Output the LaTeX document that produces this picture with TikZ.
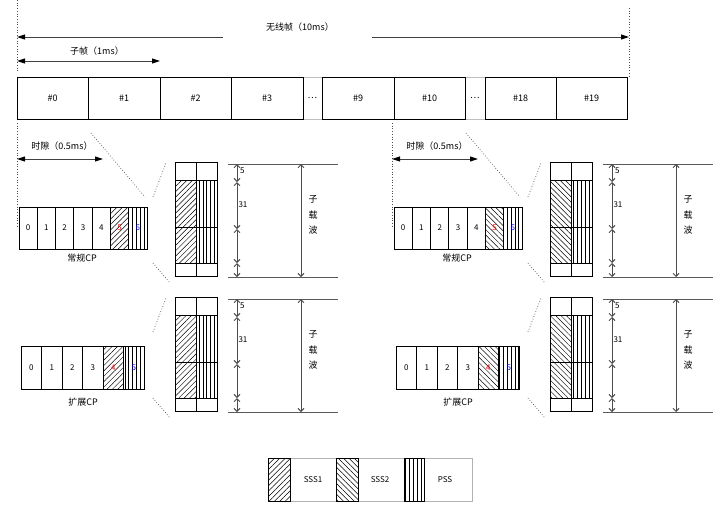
\documentclass[tikz,border=0pt]{standalone}
\usepackage{fontspec}
\setmainfont{Noto Sans CJK SC}
\usetikzlibrary{arrows.meta,patterns.meta}
\tikzset{
  every node/.style={inner sep=0pt,outer sep=0pt},
  txt/.style={font=\fontsize{9}{10}\selectfont},
  small/.style={font=\fontsize{8}{9}\selectfont},
  fbox/.style={draw,line width=0.8pt,minimum height=42pt,txt},
  gbox/.style={draw=black!25,line width=0.8pt,minimum height=42pt,txt},
  cell/.style={draw,line width=0.8pt,small},
  gcell/.style={draw,line width=0.8pt,minimum width=21pt},
  hatchA/.style={pattern={Lines[angle=45,distance=3.8pt,line width=0.5pt]}},
  hatchB/.style={pattern={Lines[angle=-45,distance=3.8pt,line width=0.5pt]}},
  vlines/.style={pattern={Lines[angle=90,distance=3.9pt,line width=0.6pt]}},
  dots/.style={dotted,line width=0.7pt,black!70},
  tri/.tip={Triangle[length=8pt,width=5pt,black]},
  bigarrow/.style={line width=1pt,black!75,tri-tri},
  dim/.style={line width=0.9pt,black!70,{Straight Barb[length=3pt,width=6pt]}-{Straight Barb[length=3pt,width=6pt]}},
  dimline/.style={line width=1pt,black!65},
}
\newcommand\gridpart[3]{%
\begin{scope}[shift={(0,#2)}]
  \node[gcell,minimum height=18pt] (#1a1) at (185.5,171) {};
  \node[gcell,minimum height=18pt] (#1b1) at (206.5,171) {};
  \node[gcell,minimum height=47pt,#3] (#1a2) at (185.5,203.5) {};
  \node[gcell,minimum height=47pt,vlines] (#1b2) at (206.5,203.5) {};
  \node[gcell,minimum height=36pt,#3] (#1a3) at (185.5,245) {};
  \node[gcell,minimum height=36pt,vlines] (#1b3) at (206.5,245) {};
  \node[gcell,minimum height=13pt] (#1a4) at (185.5,269.5) {};
  \node[gcell,minimum height=13pt] (#1b4) at (206.5,269.5) {};
  \coordinate (#1fa) at (153,197); \coordinate (#1fb) at (166,163);
  \coordinate (#1fc) at (153,263); \coordinate (#1fd) at (170,283);
  \draw[dots] (#1fa) -- (#1fb);
  \draw[dots] (#1fc) -- (#1fd);
  \coordinate (#1t0) at (228,164); \coordinate (#1t1) at (338,164);
  \coordinate (#1u0) at (228,277); \coordinate (#1u1) at (338,277);
  \draw[dimline] (#1t0) -- (#1t1);
  \draw[dimline] (#1u0) -- (#1u1);
  \coordinate (#1p0) at (237,164); \coordinate (#1p1) at (237,182);
  \coordinate (#1p2) at (237,229); \coordinate (#1p3) at (237,263);
  \coordinate (#1p4) at (237,277);
  \draw[dim] (#1p0) -- (#1p1);
  \draw[dim] (#1p1) -- (#1p2);
  \draw[dim] (#1p2) -- (#1p3);
  \draw[dim] (#1p3) -- (#1p4);
  \node[small,anchor=west] (#1l5) at (240,171) {5};
  \node[small,anchor=west] (#1l31) at (238.5,205) {31};
  \coordinate (#1r0) at (301,164); \coordinate (#1r1) at (301,277);
  \draw[dim] (#1r0) -- (#1r1);
  \node[font=\fontsize{9}{15.5}\selectfont,align=center] (#1sc) at (313,215) {子\\载\\波};
\end{scope}}
\newcommand\halfpart[3]{%
\begin{scope}[xshift=#2]
  \coordinate (#1va) at (17,123); \coordinate (#1vb) at (17,228);
  \draw[dots] (#1va) -- (#1vb);
  \coordinate (#1da) at (91,133); \coordinate (#1db) at (145,197);
  \draw[dots] (#1da) -- (#1db);
  \coordinate (#1sa) at (17,159); \coordinate (#1sb) at (103,159);
  \draw[bigarrow] (#1sa) -- (#1sb);
  \node[txt] (#1slot) at (62,146) {时隙（0.5ms）};
  \foreach \i in {0,...,4}
    \node[cell,minimum width=18.29pt,minimum height=42pt] (#1n\i) at ({19+18.286*(\i+0.5)},228) {\i};
  \node[cell,minimum width=18.29pt,minimum height=42pt,#3] (#1n5) at ({19+18.286*5.5},228) {\textcolor{red}{5}};
  \node[cell,minimum width=18.29pt,minimum height=42pt,vlines] (#1n6) at ({19+18.286*6.5},228) {\textcolor{blue}{6}};
  \node[txt] (#1ncp) at (82,258) {常规CP};
  \foreach \i in {0,...,3}
    \node[cell,minimum width=20.5pt,minimum height=43pt] (#1e\i) at ({21+20.5*(\i+0.5)},367.5) {\i};
  \node[cell,minimum width=20.5pt,minimum height=43pt,#3] (#1e4) at ({21+20.5*4.5},367.5) {\textcolor{red}{4}};
  \node[cell,minimum width=20.5pt,minimum height=43pt,vlines] (#1e5) at ({21+20.5*5.5},367.5) {\textcolor{blue}{5}};
  \node[txt] (#1ecp) at (83,402) {扩展CP};
  \gridpart{#1u}{0}{#3}
  \gridpart{#1l}{135}{#3}
\end{scope}}
\begin{document}
\begin{tikzpicture}[x=1pt,y=-1pt]
\useasboundingbox (0,0) rectangle (714,507);
\fill[white] (0,0) rectangle (714,507);
% top dimension
\coordinate (tl0) at (17,0); \coordinate (tl1) at (17,72);
\coordinate (tr0) at (629,8); \coordinate (tr1) at (629,77);
\draw[dots] (tl0) -- (tl1);
\draw[dots] (tr0) -- (tr1);
\coordinate (wa) at (17,37); \coordinate (wb) at (223,37);
\coordinate (wc) at (372,37); \coordinate (wd) at (629,37);
\draw[line width=1pt,black!75,-tri] (wb) -- (wa);
\draw[line width=1pt,black!75,-tri] (wc) -- (wd);
\node[txt] (wt) at (300,27) {无线帧（10ms）};
\coordinate (sa) at (17,61); \coordinate (sb) at (160,61);
\draw[bigarrow] (sa) -- (sb);
\node[txt] (st) at (97,51) {子帧（1ms）};
% frame row
\node[gbox,minimum width=19pt] (g1) at (312.5,98) {…};
\node[gbox,minimum width=20pt] (g2) at (475,98) {…};
\node[fbox,minimum width=71pt] (f0) at (52.5,98) {\#0};
\node[fbox,minimum width=72pt] (f1) at (124,98) {\#1};
\node[fbox,minimum width=71pt] (f2) at (195.5,98) {\#2};
\node[fbox,minimum width=72pt] (f3) at (267,98) {\#3};
\node[fbox,minimum width=72pt] (f9) at (358,98) {\#9};
\node[fbox,minimum width=71pt] (f10) at (429.5,98) {\#10};
\node[fbox,minimum width=71pt] (f18) at (520.5,98) {\#18};
\node[fbox,minimum width=71pt] (f19) at (591.5,98) {\#19};
% halves
\halfpart{L}{0pt}{hatchA}
\halfpart{R}{375pt}{hatchB}
% legend
\node[draw=black!30,line width=0.8pt,minimum width=204pt,minimum height=43pt] (leg) at (370,479.5) {};
\node[draw,line width=0.8pt,minimum width=22pt,minimum height=43pt,hatchA] (lg1) at (279,479.5) {};
\node[draw,line width=0.8pt,minimum width=22pt,minimum height=43pt,hatchB] (lg2) at (347,479.5) {};
\node[draw,line width=0.8pt,minimum width=20pt,minimum height=43pt,vlines] (lg3) at (414,479.5) {};
\node[small] (lt1) at (313,480) {SSS1};
\node[small] (lt2) at (380,480) {SSS2};
\node[small] (lt3) at (445,480) {PSS};
\end{tikzpicture}
\end{document}
